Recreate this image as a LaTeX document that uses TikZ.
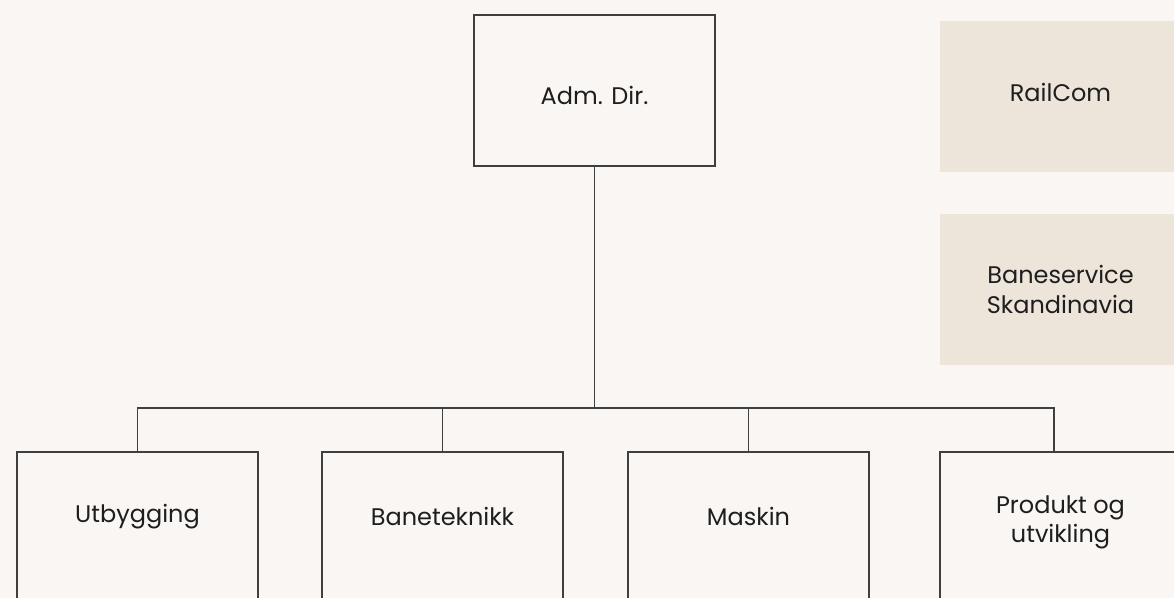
\documentclass[tikz,border=0pt]{standalone}
\usepackage{fontspec}
\setmainfont{Poppins}
\usetikzlibrary{positioning}

\definecolor{fond}{HTML}{F9F6F3}
\definecolor{beige}{HTML}{EDE5DA}
\definecolor{trait}{HTML}{3F3F3F}
\definecolor{encre}{HTML}{1E1E1E}

\begin{document}
\begin{tikzpicture}[x=0.75pt,y=-0.75pt,
  boite/.style={draw=trait,line width=1.1pt,fill=fond,minimum width=180.75pt,
    minimum height=113.25pt,inner sep=0pt,text=encre,font=\fontsize{18}{22}\selectfont,align=center},
  filiale/.style={boite,draw=none,fill=beige},
  lien/.style={draw=trait,line width=1.1pt},
  etiq/.style={text=encre,font=\fontsize{18}{22}\selectfont,align=center}]

\useasboundingbox (0,0) rectangle (1174,598);
\fill[fond] (0,0) rectangle (1174,598);
\clip (0,0) rectangle (1174,598);

% Direction
\node[boite,label={[etiq,yshift=-4pt]center:Adm. Dir.}] (adm) at (594.5,90.5) {};

% Filiales
\node[filiale,label={[etiq,yshift=3pt]center:RailCom}] (rail) at (1060.5,96.5) {};
\node[filiale] (bsk) at (1060.5,289.5) {Baneservice\\Skandinavia};

% Departements
\node[boite,label={[etiq,yshift=8pt]center:Utbygging}] (utb) at (137.5,527.5) {};
\node[boite,label={[etiq,yshift=8pt]center:Baneteknikk}] (bane) at (442.5,527.5) {};
\node[boite,label={[etiq,yshift=8pt]center:Maskin}] (mask) at (748.5,527.5) {};
\node[boite,label={[etiq,yshift=4pt]center:Produkt og\\utvikling}] (prod) at (1060.5,527.5) {};
\coordinate (prodhaut) at (1054,452);

% Liaisons
\coordinate (bus) at (594.5,408);
\draw[lien] (adm.south) -- (bus);
\draw[lien] (utb.north) -- (utb.north |- bus) -- (prodhaut |- bus) -- (prodhaut);
\draw[lien] (bane.north) -- (bane.north |- bus);
\draw[lien] (mask.north) -- (mask.north |- bus);

\end{tikzpicture}
\end{document}
